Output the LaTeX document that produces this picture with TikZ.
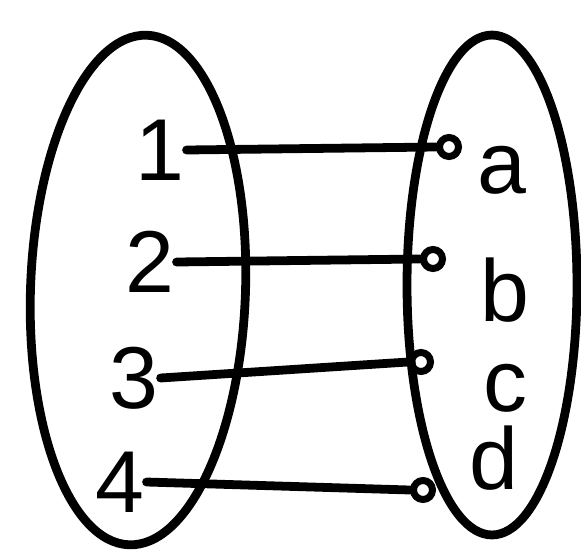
\documentclass[tikz,border=0pt]{standalone}
\usepackage{fontspec}
\setmainfont{Liberation Sans}
\usetikzlibrary{shapes.geometric, positioning}
\colorlet{colTrazo}{black}
\tikzset{
  conjunto/.style={ellipse, draw=colTrazo, line width=5pt, inner sep=0pt},
  elemento/.style={font=\fontsize{50}{50}\selectfont, text=colTrazo, inner sep=1pt},
  puntoFin/.style={circle, draw=colTrazo, line width=4pt, minimum size=0.38cm, inner sep=0pt},
  enlace/.style={line width=5pt, colTrazo, line cap=round},
}
\begin{document}
\begin{tikzpicture}[x=0.02cm, y=-0.02cm]
    \useasboundingbox (0,0) rectangle (581,558);
    % los dos conjuntos
    \node[conjunto, minimum width=4.3cm, minimum height=10.2cm, rotate=-2] (dominio) at (138,290) {};
    \node[conjunto, minimum width=3.4cm, minimum height=10cm] (imagen) at (492,285) {};
    % elementos de la izquierda
    \node[elemento] (uno) at (160,150) {1};
    \node[elemento] (dos) at (150,262) {2};
    \node[elemento] (tres) at (134,378) {3};
    \node[elemento] (cuatro) at (120,482) {4};
    % puntos de llegada
    \node[puntoFin] (pa) at (449,147) {};
    \node[puntoFin] (pb) at (433,259) {};
    \node[puntoFin] (pc) at (421,362) {};
    \node[puntoFin] (pd) at (423,490) {};
    % elementos de la derecha
    \node[elemento] (a) at (502,170) {a};
    \node[elemento] (b) at (505,290) {b};
    \node[elemento] (c) at (505,388) {c};
    \node[elemento] (d) at (494,458) {d};
    % la correspondencia
    \draw[enlace] (uno.east) -- (pa.west);
    \draw[enlace] (dos.east) -- (pb.west);
    \draw[enlace] (tres.east) -- (pc.west);
    \draw[enlace] (cuatro.east) -- (pd.west);
\end{tikzpicture}
\end{document}
